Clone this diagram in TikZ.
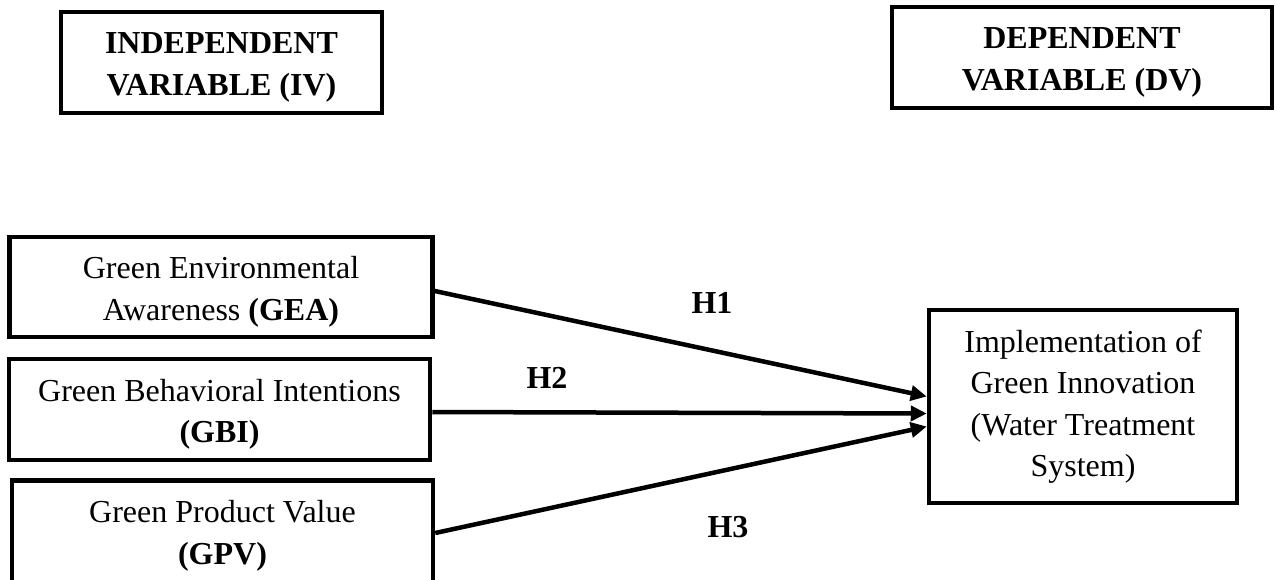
\documentclass[tikz,border=0pt]{standalone}
\usepackage{fontspec}
\setmainfont{Liberation Serif}
\usetikzlibrary{arrows.meta}
\begin{document}
\begin{tikzpicture}[x=1pt,y=-1pt,
  box/.style={draw=black,line width=4.5pt,inner sep=0pt},
  txt/.style={align=center,inner sep=0pt,font=\fontsize{32}{41.5}\selectfont},
  conn/.style={line width=4.5pt,-{Triangle[length=16pt,width=15pt]}},
  hlab/.style={font=\fontsize{32}{41.5}\selectfont\bfseries}]
\useasboundingbox (0,0) rectangle (1276,580);
\node[box,minimum width=321pt,minimum height=101pt] (iv) at (221.5,62.5) {};
\node[txt] (ivt) at ([yshift=-5pt]iv.center) {\bfseries INDEPENDENT\\\bfseries VARIABLE (IV)};
\node[box,minimum width=380pt,minimum height=101pt] (dv) at (1082,57.5) {};
\node[txt] (dvt) at ([yshift=-5pt]dv.center) {\bfseries DEPENDENT\\\bfseries VARIABLE (DV)};
\node[box,minimum width=423pt,minimum height=100pt] (gea) at (221,287) {};
\node[txt] (geat) at ([yshift=-5pt]gea.center) {Green Environmental\\Awareness \textbf{(GEA)}};
\node[box,minimum width=421pt,minimum height=101pt] (gbi) at (219.5,409.5) {};
\node[txt] (gbit) at ([yshift=-5pt]gbi.center) {Green Behavioral Intentions\\\textbf{(GBI)}};
\node[box,minimum width=421pt,minimum height=105pt] (gpv) at (222.5,533) {};
\node[txt] (gpvt) at ([yshift=-3pt]gpv.center) {Green Product Value\\\textbf{(GPV)}};
\node[box,minimum width=308pt,minimum height=193pt] (dvb) at (1083,406.5) {};
\node[txt] (dvbt) at (dvb.center) {Implementation of\\Green Innovation\\(Water Treatment\\System)};
\draw[conn] ([yshift=-4pt]gea.east) -- ([yshift=10pt]dvb.west);
\draw[conn] ([yshift=-2.5pt]gbi.east) -- ([yshift=-7pt]dvb.west);
\draw[conn] (gpv.east) -- ([yshift=-20pt]dvb.west);
\node[hlab] (h1) at (712,303) {H1};
\node[hlab] (h2) at (547,378) {H2};
\node[hlab] (h3) at (728,527) {H3};
\end{tikzpicture}
\end{document}
